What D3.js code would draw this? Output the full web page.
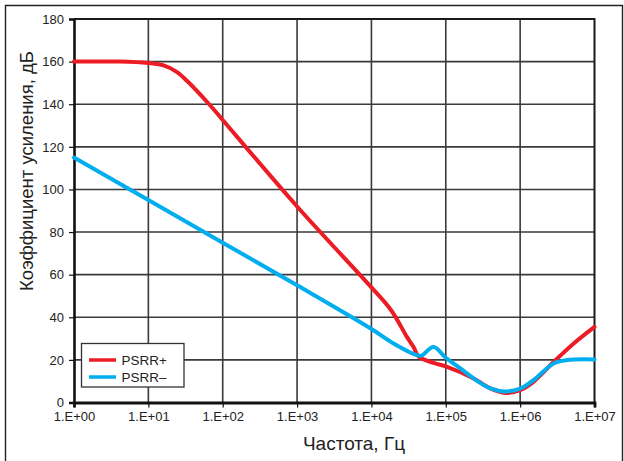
<!DOCTYPE html>
<html>
<head>
<meta charset="utf-8">
<script src="https://cdn.jsdelivr.net/npm/d3@7"></script>
<style>
  html, body { margin: 0; padding: 0; background: #fff; }
  svg { display: block; font-family: "Liberation Sans", Arial, sans-serif; }
</style>
</head>
<body>
<svg id="chart" width="624" height="461"></svg>
<script>
// PSRR+ curve: frequency (Hz) and rejection (dB)
const psrrPlusFreq = [1, 4, 10, 16, 24, 33, 68, 100, 1000, 10000, 18500, 30000, 36900, 43000, 68500, 100000, 237000, 398000, 631000, 1000000, 1510000, 2820000, 5250000, 10000000];
const psrrPlusDb   = [160, 160, 159.3, 158.2, 155.2, 151, 139.4, 132.6, 92, 54, 43.2, 30.8, 26, 21.6, 18.6, 17, 11.3, 6.6, 4.5, 5.8, 9.7, 19, 27.7, 35.5];

// PSRR− curve
const psrrMinusFreq = [1, 10, 100, 1000, 10000, 19800, 41000, 47000, 68500, 100000, 157000, 237000, 398000, 631000, 1000000, 1510000, 2820000, 4270000, 10000000];
const psrrMinusDb   = [115, 95, 75, 55, 34.5, 27.7, 22.2, 22, 26, 21, 16, 11.3, 6.6, 5.2, 6.5, 10.5, 18.3, 19.9, 20.2];

const xTicks = [1, 10, 100, 1000, 10000, 100000, 1000000, 10000000];
const xTickLabels = ["1.E+00", "1.E+01", "1.E+02", "1.E+03", "1.E+04", "1.E+05", "1.E+06", "1.E+07"];
const yTicks = [0, 20, 40, 60, 80, 100, 120, 140, 160, 180];

const seriesNames = ["PSRR+", "PSRR\u2013"];
const seriesColors = ["#ed1c24", "#00aeef"];

const svg = d3.select("#chart");
const plotLeft = 74, plotRight = 594.5, plotTop = 19, plotBottom = 402.5;

const x = d3.scaleLog().domain([1, 1e7]).range([plotLeft, plotRight]);
const y = d3.scaleLinear().domain([0, 180]).range([plotBottom, plotTop]);

// outer frame
svg.append("path")
  .attr("d", `M5.5,470 V5.5 H622.5 V470`)
  .attr("fill", "none").attr("stroke", "#222").attr("stroke-width", 1.4);

// grid
const grid = svg.append("g");
grid.selectAll("line.h").data(yTicks.slice(1, -1)).join("line")
  .attr("class", "h")
  .attr("x1", plotLeft).attr("x2", plotRight)
  .attr("y1", d => y(d)).attr("y2", d => y(d))
  .attr("stroke", "#3a3a3a").attr("stroke-width", 1.6);
grid.selectAll("line.v").data(xTicks.slice(1, -1)).join("line")
  .attr("class", "v")
  .attr("y1", plotTop).attr("y2", plotBottom)
  .attr("x1", d => x(d)).attr("x2", d => x(d))
  .attr("stroke", "#3a3a3a").attr("stroke-width", 1.6);

// top and right plot border
svg.append("path")
  .attr("d", `M${plotLeft},${plotTop} H${plotRight} V${plotBottom}`)
  .attr("fill", "none").attr("stroke", "#1a1a1a").attr("stroke-width", 2);

// axes
const yAxis = d3.axisLeft(y).tickValues(yTicks).tickSize(5).tickPadding(5);
const gy = svg.append("g").attr("transform", `translate(${plotLeft},0)`).call(yAxis);
gy.select(".domain").attr("stroke", "#111").attr("stroke-width", 2.6);
gy.selectAll(".tick line").attr("stroke", "#111").attr("stroke-width", 1.2);
gy.selectAll(".tick text").attr("font-size", 13).attr("fill", "#222")
  .attr("font-family", "Liberation Sans, Arial, sans-serif");

const xAxis = d3.axisBottom(x).tickValues(xTicks)
  .tickFormat((d, i) => xTickLabels[i]).tickSize(5).tickPadding(4);
const gx = svg.append("g").attr("transform", `translate(0,${plotBottom})`).call(xAxis);
gx.select(".domain").attr("stroke", "#111").attr("stroke-width", 2.8);
gx.selectAll(".tick line").attr("stroke", "#111").attr("stroke-width", 1.2);
gx.selectAll(".tick text").attr("font-size", 13).attr("fill", "#222")
  .attr("font-family", "Liberation Sans, Arial, sans-serif");

// curves
const line = d3.line()
  .x(d => x(d[0])).y(d => y(d[1]))
  .curve(d3.curveCatmullRom.alpha(0.5));

const series = [
  d3.zip(psrrPlusFreq, psrrPlusDb),
  d3.zip(psrrMinusFreq, psrrMinusDb)
];

svg.append("g").selectAll("path").data(series).join("path")
  .attr("d", line)
  .attr("fill", "none")
  .attr("stroke", (d, i) => seriesColors[i])
  .attr("stroke-width", 4)
  .attr("stroke-linejoin", "round")
  .attr("stroke-linecap", "round");

// axis titles
svg.append("text")
  .attr("x", 354).attr("y", 450)
  .attr("text-anchor", "middle")
  .attr("font-size", 19).attr("fill", "#222")
  .text("Частота, Гц");

svg.append("text")
  .attr("transform", `translate(33,171) rotate(-90)`)
  .attr("text-anchor", "middle")
  .attr("font-size", 18.5).attr("fill", "#222")
  .text("Коэффициент усиления, дБ");

// legend
const lg = svg.append("g");
lg.append("rect")
  .attr("x", 81.5).attr("y", 343.5).attr("width", 102.5).attr("height", 43.5)
  .attr("fill", "#fff").attr("stroke", "#333").attr("stroke-width", 1.3);
seriesNames.forEach((name, i) => {
  const yy = 360 + i * 17;
  lg.append("line")
    .attr("x1", 89).attr("x2", 116).attr("y1", yy).attr("y2", yy)
    .attr("stroke", seriesColors[i]).attr("stroke-width", 3.5);
  lg.append("text")
    .attr("x", 121.5).attr("y", yy + 5)
    .attr("font-size", 13.5).attr("fill", "#222")
    .text(name);
});
</script>
</body>
</html>
